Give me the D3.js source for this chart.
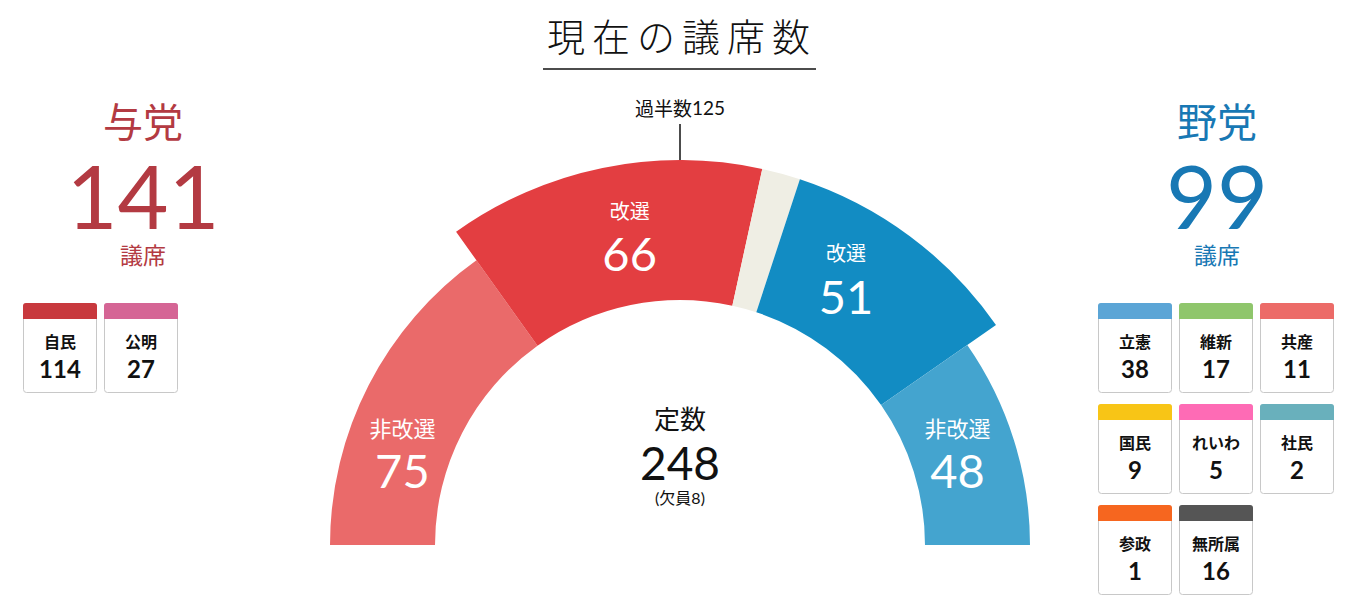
<!DOCTYPE html>
<html lang="ja">
<head>
<meta charset="utf-8">
<script src="https://cdn.jsdelivr.net/npm/d3@7"></script>
<style>
  body { margin: 0; background: #fff; }
  text { font-family: "Lato", "Noto Sans CJK JP", sans-serif; }
  .jp { font-family: "Noto Sans CJK JP", sans-serif; }
</style>
</head>
<body>
<script>
// --- data ---
let segNames = ["非改選", "改選", "欠員", "改選", "非改選"];
let segSeats = [75, 66, 8, 51, 48];
let segColors = ["#ea6a6a", "#e33e41", "#efeee4", "#128cc3", "#44a4cf"];
let segRaised = [false, true, true, true, false];   // 改選 seats drawn taller
let teiSu = 248, ketsuin = 8, kahansu = 125;

let ruling = { name: "与党", seats: 141 };
let opposition = { name: "野党", seats: 99 };

let rulingParties = ["自民", "公明"];
let rulingSeats = [114, 27];
let rulingColors = ["#c8393e", "#d56595"];

let oppParties = ["立憲", "維新", "共産", "国民", "れいわ", "社民", "参政", "無所属"];
let oppSeats = [38, 17, 11, 9, 5, 2, 1, 16];
let oppColors = ["#5ba5d6", "#8fc66c", "#ec6b68", "#f8c516", "#fe6bb5", "#69b0bc", "#f6661f", "#555555"];

// --- layout ---
let w = 1362, h = 616;
let cx = 680, cy = 545;
let rIn = 245, rOut = 350, rOutHi = 385;
let labelNudge = [-8, 2.5, 0, -5.2, -1.9];   // degrees

let svg = d3.select("body").append("svg")
    .attr("width", w)
    .attr("height", h);

// title
svg.append("text")
    .attr("class", "jp")
    .attr("x", cx + 2)
    .attr("y", 34)
    .attr("text-anchor", "middle")
    .attr("dominant-baseline", "central")
    .attr("font-size", 38)
    .attr("font-weight", 300)
    .attr("letter-spacing", 7)
    .attr("fill", "#111")
    .text("現在の議席数");
svg.append("line")
    .attr("x1", 543).attr("x2", 816)
    .attr("y1", 69).attr("y2", 69)
    .attr("stroke", "#111")
    .attr("stroke-width", 1.5);

// semicircle
let total = d3.sum(segSeats);
let angle = d3.scaleLinear().domain([0, total]).range([-Math.PI / 2, Math.PI / 2]);
let starts = d3.cumsum([0].concat(segSeats));
let segs = segSeats.map(function(d, i) {
    return { i: i, name: segNames[i], seats: d, color: segColors[i], raised: segRaised[i],
             a0: angle(starts[i]), a1: angle(starts[i] + d) };
});

let arc = d3.arc()
    .innerRadius(rIn)
    .outerRadius(function(d) { return d.raised ? rOutHi : rOut; })
    .startAngle(function(d) { return d.a0; })
    .endAngle(function(d) { return d.a1; });

let g = svg.append("g").attr("transform", "translate(" + cx + "," + cy + ")");

g.selectAll("path.seg")
    .data(segs)
    .join("path")
    .attr("class", "seg")
    .attr("d", arc)
    .attr("fill", function(d) { return d.color; });

// majority marker
g.append("line")
    .attr("x1", 0).attr("x2", 0)
    .attr("y1", -rOutHi).attr("y2", -rOutHi - 36)
    .attr("stroke", "#111")
    .attr("stroke-width", 1.5);
let kh = g.append("text")
    .attr("x", 0)
    .attr("y", -rOutHi - 53)
    .attr("text-anchor", "middle")
    .attr("dominant-baseline", "central")
    .attr("font-size", 19)
    .attr("fill", "#111");
kh.append("tspan").attr("class", "jp").text("過半数");
kh.append("tspan").text(kahansu);

// segment labels
let lab = g.selectAll("g.lab")
    .data(segs.filter(function(d) { return d.name !== "欠員"; }))
    .join("g")
    .attr("class", "lab")
    .attr("transform", function(d) {
        let a = (d.a0 + d.a1) / 2 + labelNudge[d.i] * Math.PI / 180;
        let r = d.raised ? 318 : 294;
        return "translate(" + (r * Math.sin(a)) + "," + (-r * Math.cos(a)) + ")";
    });
lab.append("text")
    .attr("class", "jp")
    .attr("text-anchor", "middle")
    .attr("dominant-baseline", "central")
    .attr("y", -21)
    .attr("font-size", function(d) { return d.raised ? 20 : 22; })
    .attr("fill", "#fff")
    .text(function(d) { return d.name; });
lab.append("text")
    .attr("text-anchor", "middle")
    .attr("dominant-baseline", "central")
    .attr("y", 22)
    .attr("font-size", 47)
    .attr("fill", "#fff")
    .text(function(d) { return d.seats; });

// center text
g.append("text")
    .attr("class", "jp")
    .attr("x", 0).attr("y", -128)
    .attr("text-anchor", "middle")
    .attr("dominant-baseline", "central")
    .attr("font-size", 26)
    .attr("fill", "#111")
    .text("定数");
g.append("text")
    .attr("x", 0).attr("y", -83)
    .attr("text-anchor", "middle")
    .attr("dominant-baseline", "central")
    .attr("font-size", 46)
    .attr("fill", "#111")
    .text(teiSu);
g.append("text")
    .attr("x", 0).attr("y", -48)
    .attr("text-anchor", "middle")
    .attr("dominant-baseline", "central")
    .attr("font-size", 16)
    .attr("fill", "#111")
    .text("(欠員" + ketsuin + ")");

// side blocks
function sideBlock(info, x, color) {
    svg.append("text").attr("class", "jp")
        .attr("x", x).attr("y", 120)
        .attr("text-anchor", "middle").attr("dominant-baseline", "central")
        .attr("font-size", 40).attr("fill", color)
        .text(info.name);
    svg.append("text")
        .attr("x", x).attr("y", 195)
        .attr("text-anchor", "middle").attr("dominant-baseline", "central")
        .attr("font-size", 88).attr("font-weight", 400).attr("fill", color)
        .text(info.seats);
    svg.append("text").attr("class", "jp")
        .attr("x", x).attr("y", 254)
        .attr("text-anchor", "middle").attr("dominant-baseline", "central")
        .attr("font-size", 23).attr("fill", color)
        .text("議席");
}
sideBlock(ruling, 143, "#b33a42");
sideBlock(opposition, 1217, "#1878b4");

// party cards
let cardW = 74, cardH = 90, headH = 16, colStep = 81, rowStep = 101;
function cards(names, seats, colors, x0, y0) {
    let data = names.map(function(n, i) { return { name: n, seats: seats[i], color: colors[i], i: i }; });
    let cg = svg.selectAll(null)
        .data(data)
        .join("g")
        .attr("transform", function(d) {
            return "translate(" + (x0 + (d.i % 3) * colStep) + "," + (y0 + Math.floor(d.i / 3) * rowStep) + ")";
        });
    cg.append("rect")
        .attr("x", 0.5).attr("y", 0.5)
        .attr("width", cardW - 1).attr("height", cardH - 1)
        .attr("rx", 3)
        .attr("fill", "#fff")
        .attr("stroke", "#c8c8c8");
    cg.append("path")
        .attr("d", "M0,3 Q0,0 3,0 H" + (cardW - 3) + " Q" + cardW + ",0 " + cardW + ",3 V" + headH + " H0 Z")
        .attr("fill", function(d) { return d.color; });
    cg.append("text").attr("class", "jp")
        .attr("x", cardW / 2).attr("y", 38)
        .attr("text-anchor", "middle").attr("dominant-baseline", "central")
        .attr("font-size", 16).attr("font-weight", 700).attr("fill", "#111")
        .text(function(d) { return d.name; });
    cg.append("text")
        .attr("x", cardW / 2).attr("y", 65)
        .attr("text-anchor", "middle").attr("dominant-baseline", "central")
        .attr("font-size", 24).attr("font-weight", 700).attr("fill", "#111")
        .text(function(d) { return d.seats; });
}
cards(rulingParties, rulingSeats, rulingColors, 23, 303);
cards(oppParties, oppSeats, oppColors, 1098, 303);
</script>
</body>
</html>
